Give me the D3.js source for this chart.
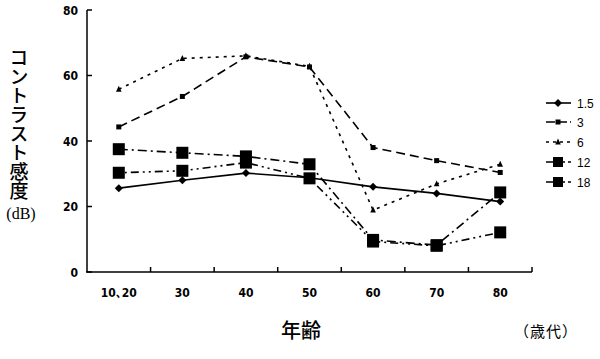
<!DOCTYPE html>
<html><head><meta charset="utf-8">
<script src="https://cdn.jsdelivr.net/npm/d3@7"></script>
<style>body{margin:0;background:#fff}svg{display:block}</style>
</head><body>
<svg id="c" width="600" height="359"></svg>
<script>
const categories = ["10､20","30","40","50","60","70","80"];
const s15 = [25.6, 28.0, 30.2, 28.8, 26.0, 24.0, 21.5];
const s3  = [44.3, 53.6, 65.7, 62.6, 38.0, 34.0, 30.4];
const s6  = [55.8, 65.2, 66.0, 62.8, 18.9, 26.9, 32.9];
const s12 = [37.5, 36.4, 35.3, 32.9, 9.8, 8.2, 24.3];
const s18 = [30.3, 30.9, 33.4, 28.6, 9.3, 8.0, 12.1];
const seriesNames = ["1.5","3","6","12","18"];
const yTicks = [0,20,40,60,80];

const series = [
  {name:seriesNames[0], values:s15, dash:null, marker:"diamond", size:8},
  {name:seriesNames[1], values:s3, dash:"9,5", marker:"square", size:5},
  {name:seriesNames[2], values:s6, dash:"3,5", marker:"triangle", size:7},
  {name:seriesNames[3], values:s12, dash:"9,4,2,4", marker:"square", size:12},
  {name:seriesNames[4], values:s18, dash:"2,4,2,4,8,4", marker:"square", size:12}
];

const svg = d3.select("#c");
const x = d3.scaleBand().domain(categories).range([87,532]);
const y = d3.scaleLinear().domain([0,80]).range([272,10]);
const tickFont = "'DejaVu Sans Condensed', 'Liberation Sans', Arial";

const g = svg.append("g");
g.append("line").attr("x1",87).attr("x2",87).attr("y1",y(80)).attr("y2",y(0)).attr("stroke","#000").attr("stroke-width",1.5);
g.append("line").attr("x1",86).attr("x2",532).attr("y1",y(0)).attr("y2",y(0)).attr("stroke","#000").attr("stroke-width",1.5);
yTicks.forEach(t=>{
  g.append("line").attr("x1",87).attr("x2",92).attr("y1",y(t)).attr("y2",y(t)).attr("stroke","#000").attr("stroke-width",1.5);
  g.append("text").attr("x",78).attr("y",y(t)+4.5).attr("text-anchor","end")
    .attr("font-family",tickFont).attr("font-weight","bold").attr("font-size",12).text(t);
});
categories.forEach((c,i)=>{
  const bx = x(c)+x.bandwidth();
  g.append("line").attr("x1",bx).attr("x2",bx).attr("y1",y(0)).attr("y2",y(0)-5).attr("stroke","#000").attr("stroke-width",1.5);
  g.append("text").attr("x",x(c)+x.bandwidth()/2).attr("y",297).attr("text-anchor","middle")
    .attr("font-family",tickFont).attr("font-weight","bold").attr("font-size",12).text(c);
});

function drawMarker(sel, m, size){
  if(m==="diamond"){
    const h=size/2;
    sel.append("path").attr("d",`M0,${-h}L${h},0L0,${h}L${-h},0Z`).attr("fill","#000");
  } else if(m==="square"){
    sel.append("rect").attr("x",-size/2).attr("y",-size/2).attr("width",size).attr("height",size).attr("fill","#000");
  } else {
    const h=size/2;
    sel.append("path").attr("d",`M0,${-h}L${h*0.8},${h*0.7}L${-h*0.8},${h*0.7}Z`).attr("fill","#000");
  }
}

const line = d3.line().x((d,i)=>x(categories[i])+x.bandwidth()/2).y(d=>y(d));
series.forEach(s=>{
  svg.append("path").attr("d",line(s.values)).attr("fill","none").attr("stroke","#000")
    .attr("stroke-width",1.6).attr("stroke-dasharray",s.dash);
  s.values.forEach((v,i)=>{
    const mg = svg.append("g").attr("transform",`translate(${x(categories[i])+x.bandwidth()/2},${y(v)})`);
    drawMarker(mg,s.marker,s.size);
  });
});

// legend
const legendY = [103,122,142,162,182];
const legendDash = [null,"9,3","3,4","8,3","8,3"];
series.forEach((s,i)=>{
  const ly = legendY[i];
  svg.append("line").attr("x1",546).attr("x2",571).attr("y1",ly).attr("y2",ly).attr("stroke","#000")
    .attr("stroke-width",1.6).attr("stroke-dasharray",legendDash[i]);
  const mg = svg.append("g").attr("transform",`translate(558,${ly})`);
  drawMarker(mg,s.marker,s.marker==="square"&&s.size>10?10:s.size);
  svg.append("text").attr("x",577).attr("y",ly+4.5).attr("font-family","Liberation Sans, Arial")
    .attr("font-size",12).text(s.name);
});

// y title vertical (single text, vertical writing)
svg.append("text").attr("x",19).attr("y",48)
  .attr("font-family","Noto Sans CJK JP").attr("font-weight","500").attr("font-size",19)
  .style("writing-mode","vertical-rl").style("text-orientation","upright")
  .text("コントラスト感度");
svg.append("text").attr("x",21).attr("y",219).attr("text-anchor","middle")
  .attr("font-family","Liberation Serif, Times New Roman").attr("font-size",16).text("(dB)");

// x titles
svg.append("text").attr("x",301).attr("y",338).attr("text-anchor","middle")
  .attr("font-family","Noto Sans CJK JP").attr("font-weight","500").attr("font-size",20).text("年齢");
svg.append("text").attr("x",546).attr("y",337).attr("text-anchor","middle")
  .attr("font-family","Noto Sans CJK JP").attr("font-size",15).attr("letter-spacing",1).text("（歳代）");
</script>
</body></html>
